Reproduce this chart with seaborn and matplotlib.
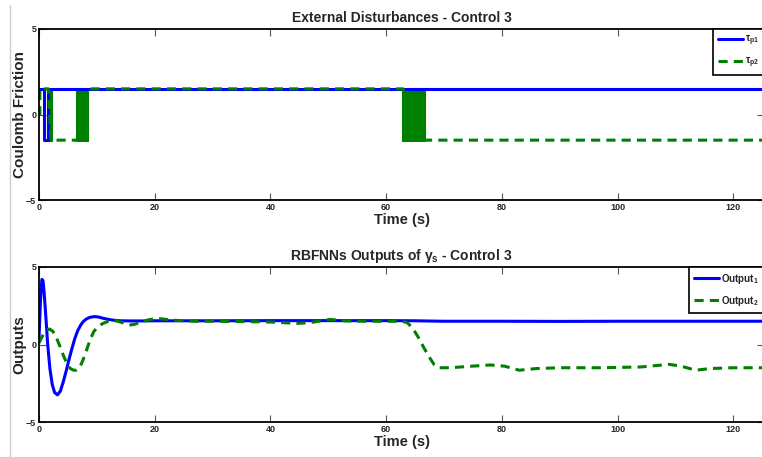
import numpy as np
import pandas as pd
import matplotlib
matplotlib.use("Agg")
import matplotlib.pyplot as plt
import seaborn as sns
from matplotlib.lines import Line2D

# ---- data ----
AMP = 1.5
T_END = 126

# tau_p1 : piecewise constant
tau1_breaks = [0, 0.95, 1.55, T_END]
tau1_levels = [1.5, -1.5, 1.5]

# tau_p2 : None = chattering between +AMP and -AMP
tau2_breaks = [0, 0.15, 1.6, 2.1, 6.6, 8.3, 62.9, 66.6, T_END]
tau2_levels = [0, 1.5, None, -1.5, None, 1.5, None, -1.5]
chatter_step = 0.07

out1_t = [0, 0.25, 0.5, 0.7, 0.9, 1.2, 1.5, 1.9, 2.3, 2.7, 3.2, 3.7, 4.2, 4.7,
          5.2, 5.7, 6.2, 6.7, 7.2, 7.7, 8.2, 8.8, 9.5, 10.2, 11, 12, 13, 14,
          16, 18, 20, 30, 40, 50, 60, 65, 70, 80, 90, 100, 110, 120, T_END]
out1_y = [0.4, 2.8, 4.2, 4.1, 3.3, 1.7, 0.0, -1.6, -2.6, -3.1, -3.25, -3.0,
          -2.4, -1.7, -0.95, -0.25, 0.4, 0.9, 1.25, 1.5, 1.65, 1.75, 1.8, 1.78,
          1.7, 1.62, 1.56, 1.53, 1.52, 1.52, 1.53, 1.53, 1.54, 1.54, 1.54, 1.53,
          1.5, 1.5, 1.49, 1.5, 1.5, 1.5, 1.5]

out2_t = [0, 0.6, 1.2, 1.8, 2.4, 3.0, 3.6, 4.2, 4.8, 5.4, 6.0, 6.5, 7.0, 7.5,
          8.0, 8.5, 9.0, 9.5, 10.2, 11, 12, 13, 13.6, 14.5, 15.6, 16.5, 17.6,
          19, 20.5, 22, 24, 27, 30, 35, 40, 44.6, 47, 50.3, 53, 56, 60, 62.5,
          63.6, 64.5, 65.5, 66.5, 67.6, 68.3, 69, 71, 74, 78, 80.5, 83, 86, 90,
          97, 104, 108.9, 111, 113.5, 116, 120, T_END]
out2_y = [0.1, 0.55, 0.9, 1.0, 0.85, 0.45, -0.1, -0.7, -1.2, -1.55, -1.66,
          -1.65, -1.5, -1.1, -0.6, -0.05, 0.45, 0.85, 1.15, 1.35, 1.5, 1.55,
          1.5, 1.4, 1.25, 1.3, 1.45, 1.6, 1.68, 1.62, 1.55, 1.5, 1.5, 1.48,
          1.45, 1.36, 1.42, 1.62, 1.52, 1.5, 1.5, 1.5, 1.42, 1.1, 0.5, -0.2,
          -0.9, -1.3, -1.5, -1.5, -1.42, -1.32, -1.4, -1.66, -1.55, -1.5, -1.5,
          -1.45, -1.28, -1.4, -1.66, -1.55, -1.5, -1.5]

x_ticks = [0, 20, 40, 60, 80, 100, 120]
y_ticks = [-5, 0, 5]


def step_series(breaks, levels):
    # returns (steady part, chattering part) as data frames
    xs, ys = [], []
    cx, cy = [], []
    for a, b, lev in zip(breaks[:-1], breaks[1:], levels):
        if lev is None:
            sign = 1
            for e in np.arange(a, b, chatter_step):
                cx += [e, e]
                cy += [-sign * AMP, sign * AMP]
                sign = -sign
            cx += [b, np.nan]
            cy += [-sign * AMP, np.nan]
            xs += [np.nan]
            ys += [np.nan]
        else:
            xs += [a, b]
            ys += [lev, lev]
    return pd.DataFrame({"t": xs, "v": ys}), pd.DataFrame({"t": cx, "v": cy})


tau1_df, _ = step_series(tau1_breaks, tau1_levels)
tau2_df, tau2_chat = step_series(tau2_breaks, tau2_levels)
out1_df = pd.DataFrame({"t": out1_t, "v": out1_y})
out2_df = pd.DataFrame({"t": out2_t, "v": out2_y})

sns.set_style("white")
plt.rcParams["font.family"] = ["Liberation Sans", "DejaVu Sans"]
plt.rcParams["mathtext.fontset"] = "custom"
plt.rcParams["mathtext.rm"] = "Liberation Sans:bold"
plt.rcParams["mathtext.it"] = "Liberation Sans:bold"
plt.rcParams["mathtext.bf"] = "Liberation Sans:bold"

fig = plt.figure(figsize=(7.62, 4.57), dpi=100)
ax1 = fig.add_axes([39 / 762, 1 - 200 / 457, 725 / 762, 171 / 457])
ax2 = fig.add_axes([39 / 762, 1 - 422 / 457, 725 / 762, 155 / 457])

BLUE = "#0000FF"
GREEN = "#008000"
dash = (3, 2)

# dense switching of tau_p2 shows as solid green blocks
ax1.plot(tau2_chat["t"], tau2_chat["v"], color=GREEN, lw=2.2)
sns.lineplot(data=tau1_df, x="t", y="v", ax=ax1, color=BLUE, lw=2.2,
             estimator=None, sort=False, label=r"$\tau_{p1}$")
tau2_line = sns.lineplot(data=tau2_df, x="t", y="v", ax=ax1, color=GREEN,
                         lw=2.2, estimator=None, sort=False,
                         label=r"$\tau_{p2}$").lines[-1]
tau2_line.set_dashes(dash)

sns.lineplot(data=out1_df, x="t", y="v", ax=ax2, color=BLUE, lw=2.2,
             estimator=None, sort=False, label=r"Output$_1$")
sns.lineplot(data=out2_df, x="t", y="v", ax=ax2, color=GREEN, lw=2.2,
             estimator=None, sort=False, label=r"Output$_2$")
ax2.lines[1].set_dashes(dash)

titles = ["External Disturbances - Control 3",
          r"RBFNNs Outputs of $\gamma_s$ - Control 3"]
ylabels = ["Coulomb Friction", "Outputs"]

for ax, title, ylab in zip([ax1, ax2], titles, ylabels):
    ax.set_xlim(0, 125.3)
    ax.set_ylim(-5, 5)
    ax.set_xticks(x_ticks)
    ax.set_yticks(y_ticks)
    ax.tick_params(direction="in", length=5, width=0.8, color="#555555",
                   labelsize=6.5, pad=2, top=True, right=True, bottom=True,
                   left=True)
    for lab in ax.get_xticklabels() + ax.get_yticklabels():
        lab.set_fontweight("bold")
    for sp in ax.spines.values():
        sp.set_color("black")
        sp.set_linewidth(1.3)
    ax.set_title(title, fontsize=10, fontweight="bold", pad=5)
    ax.set_xlabel("Time (s)", fontsize=10.5, fontweight="bold", labelpad=1)
    ax.set_ylabel(ylab, fontsize=11, fontweight="bold")
    ax.yaxis.set_label_coords(-0.017, 0.5)
    leg = ax.legend(loc="upper right", borderaxespad=0, fancybox=False,
                    framealpha=1, edgecolor="black", handlelength=2.6,
                    prop={"weight": "bold", "size": 7}, borderpad=0.5,
                    labelspacing=0.8, handletextpad=0.2)
    leg.get_frame().set_linewidth(1.2)
    for h in leg.get_lines():
        h.set_linewidth(2.2)
    leg.get_lines()[1].set_dashes(dash)

# thin grey border line at the left of the picture
fig.add_artist(Line2D([10 / 762, 10 / 762], [0, 1 - 5 / 457],
                      transform=fig.transFigure, color="#cccccc", lw=1))

fig.savefig("out.png", dpi=100)
